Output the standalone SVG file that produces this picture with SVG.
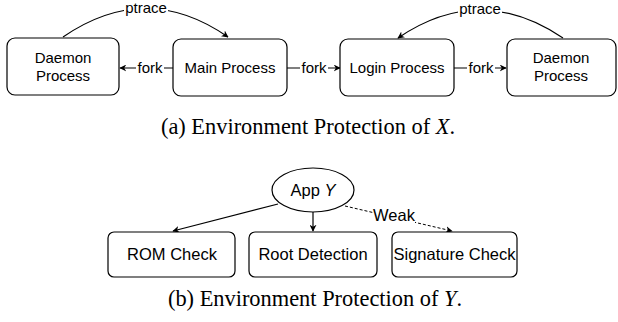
<svg xmlns="http://www.w3.org/2000/svg" width="618" height="322" viewBox="0 0 618 322">
<style>
.box{fill:#fff;stroke:#000;stroke-width:1.2}
.t{font-family:"Liberation Sans",Arial,sans-serif;font-size:15px;fill:#000;text-anchor:middle}
.tb{font-family:"Liberation Sans",Arial,sans-serif;font-size:16.5px;fill:#000;text-anchor:middle}
.cap{font-family:"Liberation Serif","Times New Roman",serif;font-size:22.4px;fill:#000;text-anchor:middle}
.e{fill:none;stroke:#000;stroke-width:1.2}
.d{fill:none;stroke:#000;stroke-width:1;stroke-dasharray:3 2}
.lbg{fill:#fff}
</style>
<defs>
<marker id="arr" viewBox="0 0 10 10" refX="9" refY="5" markerWidth="7" markerHeight="7" markerUnits="userSpaceOnUse" orient="auto">
<path d="M0,0 L10,5 L0,10 L3,5 z" fill="#000"/>
</marker>
</defs>
<g id="connectors">
<path class="e" d="M173,68 L120,68" marker-end="url(#arr)"/>
<path class="e" d="M287,68 L340,68" marker-end="url(#arr)"/>
<path class="e" d="M454,68 L506,68" marker-end="url(#arr)"/>
<path class="e" d="M63,37 Q146,-20 228,37" marker-end="url(#arr)"/>
<path class="e" d="M563,38 Q480,-18 398,38" marker-end="url(#arr)"/>
<path class="e" d="M278,204 L173,231" marker-end="url(#arr)"/>
<path class="e" d="M313,212 L313,231" marker-end="url(#arr)"/>
<path class="d" d="M345,206 L452,231" marker-end="url(#arr)"/>
<rect class="lbg" x="136" y="60" width="28" height="16"/>
<text class="t" x="150" y="73">fork</text>
<rect class="lbg" x="300" y="60" width="28" height="16"/>
<text class="t" x="314" y="73">fork</text>
<rect class="lbg" x="467" y="60" width="28" height="16"/>
<text class="t" x="481" y="73">fork</text>
<rect class="lbg" x="124" y="1" width="44" height="14"/>
<text class="t" x="146" y="13">ptrace</text>
<rect class="lbg" x="458" y="2" width="44" height="14"/>
<text class="t" x="480" y="14">ptrace</text>
<rect class="lbg" x="373" y="207" width="42" height="16"/>
<text class="tb" x="394" y="221">Weak</text>
</g>
<g id="daemon1">
<rect class="box" x="7" y="38" width="112" height="57" rx="8"/>
<text class="t" x="63" y="63">Daemon</text>
<text class="t" x="63" y="81">Process</text>
</g>
<g id="main">
<rect class="box" x="173" y="39" width="114" height="57" rx="8"/>
<text class="t" x="230" y="73">Main Process</text>
</g>
<g id="login">
<rect class="box" x="340" y="39" width="114" height="57" rx="8"/>
<text class="t" x="397" y="73">Login Process</text>
</g>
<g id="daemon2">
<rect class="box" x="507" y="39" width="109" height="57" rx="8"/>
<text class="t" x="561" y="63">Daemon</text>
<text class="t" x="561" y="81">Process</text>
</g>
<text class="cap" x="308" y="134">(a) Environment Protection of <tspan font-style="italic">X</tspan>.</text>
<g id="appy">
<ellipse class="box" cx="313" cy="190" rx="41" ry="22"/>
<text class="tb" x="313" y="196">App <tspan font-style="italic">Y</tspan></text>
</g>
<g id="rom">
<rect class="box" x="108" y="232" width="127" height="45" rx="6"/>
<text class="tb" x="172" y="260">ROM Check</text>
</g>
<g id="root">
<rect class="box" x="249" y="232" width="128" height="45" rx="6"/>
<text class="tb" x="313" y="260">Root Detection</text>
</g>
<g id="sig">
<rect class="box" x="392" y="232" width="125" height="45" rx="6"/>
<text class="tb" x="454.5" y="260">Signature Check</text>
</g>
<text class="cap" x="315" y="306">(b) Environment Protection of <tspan font-style="italic">Y</tspan>.</text>
</svg>
